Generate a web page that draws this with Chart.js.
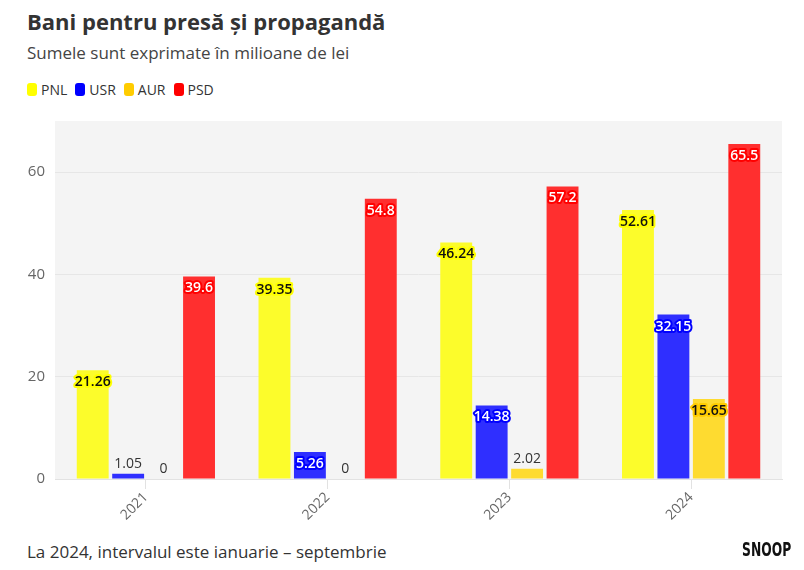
<!DOCTYPE html>
<html>
<head>
<meta charset="utf-8">
<script src="https://cdn.jsdelivr.net/npm/chart.js@4.4.0/dist/chart.umd.min.js"></script>
<style>
  body { margin: 0; background: #fff; font-family: "Open Sans", sans-serif; }
  #wrap { position: relative; width: 804px; height: 570px; }
  h1 { position: absolute; left: 27px; top: 6px; margin: 0; font-size: 22px; font-weight: 700; color: #333; }
  .sub { position: absolute; left: 27px; top: 41px; font-size: 17px; color: #444; }
  #legend { position: absolute; left: 27px; top: 80px; font-size: 14px; color: #333; display: flex; }
  #legend span.item { display: flex; align-items: center; margin-right: 8px; }
  #legend i { display: inline-block; width: 10px; height: 13px; border-radius: 3px; margin-right: 4px; }
  #chartBox { position: absolute; left: 0; top: 110px; width: 804px; height: 430px; }
  .note { position: absolute; left: 27px; top: 540px; font-size: 17px; color: #333; }
  .logo { position: absolute; right: 13px; top: 538px; font-family: "Liberation Sans Narrow", "DejaVu Sans Condensed", sans-serif; font-weight: 700; font-size: 19px; color: #111; transform: scaleX(0.72); transform-origin: right; }
</style>
</head>
<body>
<div id="wrap">
  <h1>Bani pentru presă și propagandă</h1>
  <div class="sub">Sumele sunt exprimate în milioane de lei</div>
  <div id="legend"></div>
  <div id="chartBox"><canvas id="c" width="804" height="430"></canvas></div>
  <div class="note">La 2024, intervalul este ianuarie – septembrie</div>
  <div class="logo">SNOOP</div>
</div>
<script>
// data
const years = ["2021", "2022", "2023", "2024"];
const partide = ["PNL", "USR", "AUR", "PSD"];
const pnl = [21.26, 39.35, 46.24, 52.61];
const usr = [1.05, 5.26, 14.38, 32.15];
const aur = [0, 0, 2.02, 15.65];
const psd = [39.6, 54.8, 57.2, 65.5];
const yTicks = [0, 20, 40, 60];

const pureColors = ["#ffff00", "#0000ff", "#ffcc00", "#ff0000"];
const barColors = ["#fcfc2b", "#2f2fff", "#fedb30", "#ff2f2f"];
const textColors = ["#111", "#fff", "#111", "#fff"];

// legenda html
const leg = document.getElementById("legend");
partide.forEach((p, i) => {
  leg.innerHTML += '<span class="item"><i style="background:' + pureColors[i] + '"></i>' + p + '</span>';
});

const bgPlugin = {
  id: "bg",
  beforeDraw(chart) {
    const { ctx, chartArea: a } = chart;
    ctx.save();
    ctx.fillStyle = "#f4f4f4";
    ctx.fillRect(a.left, a.top, a.right - a.left, a.bottom - a.top);
    ctx.restore();
  }
};

const labelPlugin = {
  id: "valLabels",
  afterDatasetsDraw(chart) {
    const ctx = chart.ctx;
    ctx.save();
    ctx.textAlign = "center";
    chart.data.datasets.forEach((ds, di) => {
      const meta = chart.getDatasetMeta(di);
      meta.data.forEach((bar, i) => {
        const v = ds.data[i];
        const h = bar.base - bar.y;
        const txt = String(v);
        if (h > 20) {
          ctx.font = "600 14px 'Open Sans', sans-serif";
          ctx.textBaseline = "middle";
          ctx.lineJoin = "round";
          ctx.lineWidth = 4;
          ctx.strokeStyle = pureColors[di];
          ctx.strokeText(txt, bar.x, bar.y + 12);
          ctx.fillStyle = textColors[di];
          ctx.fillText(txt, bar.x, bar.y + 12);
        } else {
          ctx.font = "14px 'Open Sans', sans-serif";
          ctx.textBaseline = "bottom";
          ctx.fillStyle = "#333";
          ctx.fillText(txt, bar.x, bar.y - 3);
        }
      });
    });
    ctx.restore();
  }
};

const series = [pnl, usr, aur, psd];

new Chart(document.getElementById("c"), {
  type: "bar",
  data: {
    labels: years,
    datasets: series.map((d, i) => ({
      label: partide[i],
      data: d,
      backgroundColor: barColors[i],
      barPercentage: 0.9,
      categoryPercentage: 0.78
    }))
  },
  options: {
    responsive: false,
    animation: false,
    layout: { padding: { left: 0, right: 22, top: 11, bottom: 0 } },
    plugins: {
      legend: { display: false },
      tooltip: { enabled: false }
    },
    scales: {
      y: {
        min: 0,
        max: 70,
        afterFit(s) { s.width = 55; s.paddingTop = 0; s.paddingBottom = 0; },
        afterBuildTicks(s) { s.ticks = yTicks.map(v => ({ value: v })); },
        border: { display: false },
        grid: { color: "#e6e6e6", drawTicks: false },
        ticks: { color: "#666", padding: 10, font: { size: 15, family: "'Open Sans', sans-serif" } }
      },
      x: {
        afterFit(s) { s.height = 61; s.paddingLeft = 0; s.paddingRight = 0; },
        border: { color: "#e2e2e2" },
        grid: { offset: false, drawOnChartArea: false, color: "#e2e2e2", tickLength: 10 },
        ticks: { color: "#666", minRotation: 45, maxRotation: 45, padding: 0, font: { size: 14, family: "'Open Sans', sans-serif" } }
      }
    }
  },
  plugins: [bgPlugin, labelPlugin]
});
</script>
</body>
</html>
